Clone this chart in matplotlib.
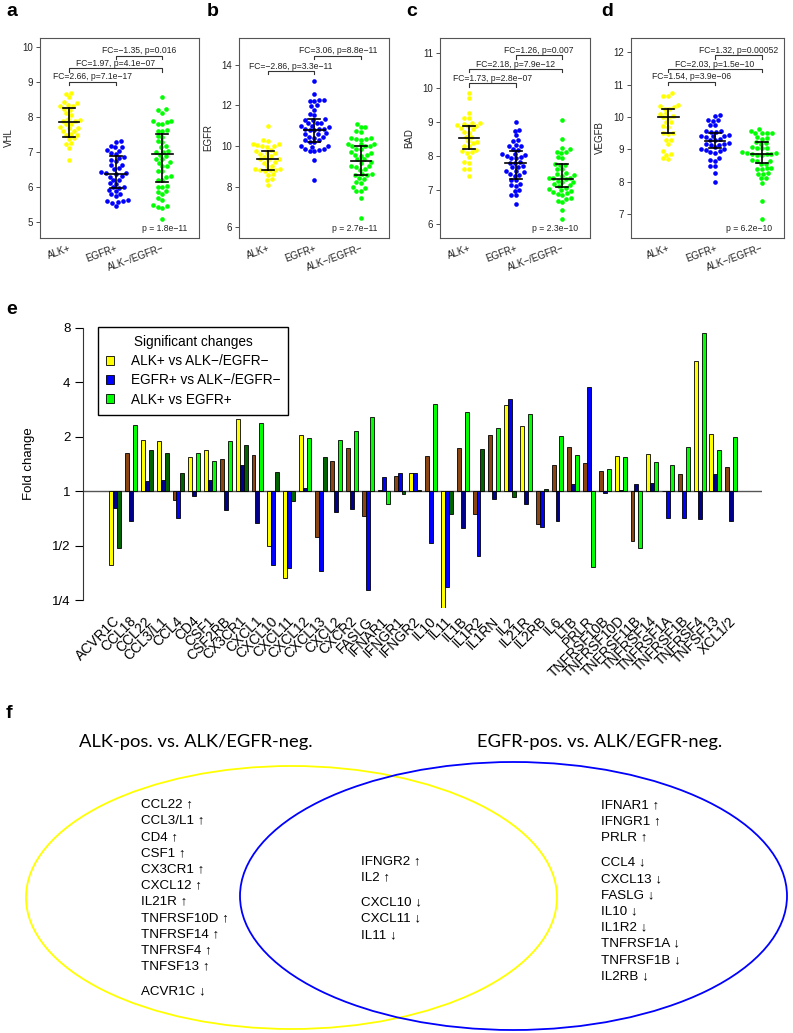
import numpy as np
import matplotlib
matplotlib.use("Agg")
import matplotlib.pyplot as plt
from matplotlib.patches import Ellipse, Patch

plt.rcParams['font.family'] = ['Liberation Sans', 'DejaVu Sans']

W, H = 793, 1033

# ---- panels a-d: expression per group ----
groups = ['ALK+', 'EGFR+', 'ALK\u2212/EGFR\u2212']

vhl_alk = [8.68, 8.66, 8.55, 8.42, 8.40, 8.33, 8.31, 8.30, 8.22, 8.20, 8.10, 8.04, 7.92, 7.90, 7.89,
           7.88, 7.80, 7.78, 7.70, 7.69, 7.67, 7.60, 7.58, 7.50, 7.48, 7.47, 7.38, 7.36, 7.24, 7.22,
           7.10, 6.76]
vhl_egfr = [7.30, 7.28, 7.16, 7.14, 7.12, 7.05, 7.03, 6.95, 6.93, 6.85, 6.83, 6.75, 6.73, 6.63, 6.61,
            6.52, 6.50, 6.41, 6.40, 6.38, 6.37, 6.30, 6.28, 6.20, 6.19, 6.10, 6.08, 6.00, 5.99, 5.97,
            5.90, 5.88, 5.80, 5.78, 5.72, 5.61, 5.60, 5.58, 5.57, 5.53, 5.45]
vhl_neg = [8.56, 8.22, 8.18, 8.12, 7.88, 7.87, 7.85, 7.80, 7.78, 7.62, 7.60, 7.58, 7.45, 7.43, 7.30,
           7.28, 7.15, 7.13, 7.02, 7.00, 6.98, 6.90, 6.88, 6.80, 6.78, 6.70, 6.68, 6.60, 6.58, 6.46,
           6.44, 6.30, 6.28, 6.20, 6.18, 6.02, 6.00, 5.98, 5.88, 5.86, 5.80, 5.66, 5.62, 5.46, 5.44,
           5.41, 5.40, 5.08]

egfr_alk = [11.0, 10.3, 10.25, 10.1, 10.08, 10.05, 10.02, 9.98, 9.95, 9.82, 9.78, 9.66, 9.64, 9.62,
            9.5, 9.48, 9.36, 9.34, 9.32, 9.2, 9.18, 9.02, 9.0, 8.87, 8.85, 8.84, 8.82, 8.8, 8.78, 8.6,
            8.58, 8.36, 8.34, 8.1]
egfr_egfr = [13.2, 12.55, 12.28, 12.26, 12.24, 12.2, 12.0, 11.98, 11.8, 11.58, 11.55, 11.32, 11.3,
             11.28, 11.16, 11.14, 11.12, 11.0, 10.98, 10.96, 10.86, 10.84, 10.82, 10.8, 10.78, 10.62,
             10.6, 10.58, 10.46, 10.44, 10.42, 10.3, 10.28, 10.2, 10.18, 10.0, 9.98, 9.96, 9.86,
             9.84, 9.82, 9.76, 9.74, 9.3, 8.35]
egfr_neg = [11.1, 10.96, 10.94, 10.72, 10.7, 10.4, 10.38, 10.36, 10.34, 10.32, 10.12, 10.1, 10.08,
            10.02, 10.0, 9.98, 9.86, 9.84, 9.7, 9.68, 9.56, 9.54, 9.52, 9.36, 9.34, 9.2, 9.18, 9.02,
            9.0, 8.98, 8.86, 8.84, 8.62, 8.6, 8.58, 8.56, 8.42, 8.4, 8.22, 8.2, 7.96, 7.94, 7.8,
            7.78, 7.45, 6.45]

bad_alk = [9.85, 9.7, 9.25, 9.12, 9.1, 8.96, 8.95, 8.93, 8.9, 8.88, 8.86, 8.8, 8.78, 8.7, 8.68, 8.56,
           8.54, 8.42, 8.4, 8.38, 8.3, 8.28, 8.16, 8.14, 8.1, 8.08, 7.95, 7.82, 7.8, 7.62, 7.6, 7.4]
bad_egfr = [9.0, 8.76, 8.74, 8.6, 8.46, 8.44, 8.32, 8.3, 8.28, 8.2, 8.18, 8.06, 8.04, 8.02, 8.0,
            7.96, 7.94, 7.92, 7.82, 7.8, 7.78, 7.7, 7.68, 7.66, 7.56, 7.54, 7.52, 7.46, 7.44, 7.42,
            7.3, 7.28, 7.16, 7.14, 7.12, 7.0, 6.98, 6.86, 6.84, 6.6]
bad_neg = [9.05, 8.5, 8.22, 8.2, 8.12, 8.1, 8.08, 7.96, 7.94, 7.76, 7.74, 7.72, 7.62, 7.6, 7.5,
           7.46, 7.44, 7.42, 7.36, 7.35, 7.34, 7.33, 7.26, 7.24, 7.22, 7.16, 7.14, 7.12, 7.05, 7.02,
           7.0, 6.98, 6.95, 6.9, 6.88, 6.86, 6.76, 6.74, 6.66, 6.64, 6.4, 6.15]

vegfb_alk = [10.75, 10.66, 10.64, 10.36, 10.34, 10.32, 10.26, 10.24, 10.12, 10.1, 10.02, 10.0, 9.98,
             9.86, 9.84, 9.72, 9.7, 9.52, 9.5, 9.48, 9.3, 9.28, 9.15, 8.95, 8.86, 8.84, 8.72, 8.7]
vegfb_egfr = [10.05, 10.03, 9.92, 9.9, 9.88, 9.76, 9.74, 9.58, 9.56, 9.55, 9.54, 9.45, 9.42, 9.41,
              9.4, 9.39, 9.32, 9.3, 9.28, 9.2, 9.16, 9.15, 9.14, 9.13, 9.06, 9.02, 9.0, 8.98, 8.95,
              8.92, 8.9, 8.74, 8.66, 8.64, 8.5, 8.48, 8.28, 8.0]
vegfb_neg = [9.62, 9.58, 9.52, 9.51, 9.5, 9.49, 9.37, 9.35, 9.33, 9.22, 9.2, 9.18, 9.06, 9.05, 9.04,
             9.03, 8.92, 8.9, 8.88, 8.87, 8.86, 8.85, 8.84, 8.83, 8.66, 8.65, 8.64, 8.56, 8.54, 8.42,
             8.41, 8.4, 8.39, 8.26, 8.25, 8.24, 8.12, 8.1, 7.95, 7.4, 6.85]

# centre line and whiskers per group
vhl_bars = [(7.86, 7.43, 8.24), (6.36, 5.97, 6.88), (6.94, 6.14, 7.50)]
egfr_bars = [(9.35, 8.83, 9.78), (10.80, 10.22, 11.32), (9.27, 8.58, 10.02)]
bad_bars = [(8.51, 8.20, 8.88), (7.80, 7.33, 8.15), (7.32, 7.07, 7.75)]
vegfb_bars = [(10.01, 9.49, 10.25), (9.27, 9.05, 9.52), (8.87, 8.57, 9.22)]

vhl_tests = [(1, 2, 'FC=2.66, p=7.1e\u221217'), (1, 3, 'FC=1.97, p=4.1e\u221207'),
             (2, 3, 'FC=\u22121.35, p=0.016')]
egfr_tests = [(1, 2, 'FC=\u22122.86, p=3.3e\u221211'), (2, 3, 'FC=3.06, p=8.8e\u221211')]
bad_tests = [(1, 2, 'FC=1.73, p=2.8e\u221207'), (1, 3, 'FC=2.18, p=7.9e\u221212'),
             (2, 3, 'FC=1.26, p=0.007')]
vegfb_tests = [(1, 2, 'FC=1.54, p=3.9e\u221206'), (1, 3, 'FC=2.03, p=1.5e\u221210'),
               (2, 3, 'FC=1.32, p=0.00052')]

# ---- panel e: log2 fold changes ----
genes = ['ACVR1C', 'CCL18', 'CCL22', 'CCL3/L1', 'CCL4', 'CD4', 'CSF1', 'CSF2RB', 'CX3CR1', 'CXCL1',
         'CXCL10', 'CXCL11', 'CXCL12', 'CXCL13', 'CXCL2', 'CXCR2', 'FASLG', 'IFNAR1', 'IFNGR1',
         'IFNGR2', 'IL10', 'IL11', 'IL1B', 'IL1R2', 'IL1RN', 'IL2', 'IL21R', 'IL2RB', 'IL6', 'LTB',
         'PRLR', 'TNFRSF10B', 'TNFRSF10D', 'TNFRSF11B', 'TNFRSF14', 'TNFRSF1A', 'TNFRSF1B',
         'TNFRSF4', 'TNFSF13', 'XCL1/2']
alk_vs_neg = [-1.35, 0.70, 0.94, 0.92, -0.16, 0.63, 0.76, 0.60, 1.33, 0.66, -1.00, -1.60, 1.03,
              -0.84, 0.56, 0.80, -0.46, 0.02, 0.28, 0.34, 0.65, -2.17, 0.80, -0.42, 1.04, 1.59,
              1.19, -0.61, 0.49, 0.81, 0.52, 0.38, 0.65, -0.91, 0.69, 0.0, 0.32, 2.40, 1.06, 0.45]
egfr_vs_neg = [-0.31, -0.54, 0.18, 0.21, -0.50, -0.08, 0.21, -0.34, 0.48, -0.59, -1.35, -1.42,
               0.05, -1.47, -0.38, -0.32, -1.82, 0.26, 0.34, 0.33, -0.95, -1.77, -0.67, -1.20,
               -0.15, 1.69, -0.23, -0.65, -0.54, 0.14, 1.91, -0.04, 0.02, 0.13, 0.15, -0.50,
               -0.49, -0.51, 0.32, -0.54]
alk_vs_egfr = [-1.05, 1.22, 0.76, 0.71, 0.34, 0.70, 0.55, 0.93, 0.85, 1.25, 0.35, -0.18, 0.98,
               0.62, 0.94, 1.11, 1.36, -0.24, -0.06, 0.02, 1.60, -0.42, 1.46, 0.78, 1.17, -0.11,
               1.41, 0.04, 1.02, 0.66, -1.39, 0.41, 0.62, -1.04, 0.53, 0.48, 0.81, 2.90, 0.75, 0.99]
sig_alk_egfr = ['CCL18', 'CD4', 'CSF1', 'CSF2RB', 'CXCL1', 'CXCL12', 'CXCL2', 'CXCR2', 'FASLG',
                'IFNAR1', 'IL10', 'IL1B', 'IL1RN', 'IL21R', 'IL6', 'LTB', 'PRLR', 'TNFRSF10B',
                'TNFRSF10D', 'TNFRSF11B', 'TNFRSF14', 'TNFRSF1A', 'TNFRSF1B', 'TNFRSF4',
                'TNFSF13', 'XCL1/2']

# ---- panel f: Venn lists ----
alk_up = ['CCL22', 'CCL3/L1', 'CD4', 'CSF1', 'CX3CR1', 'CXCL12', 'IL21R', 'TNFRSF10D',
          'TNFRSF14', 'TNFRSF4', 'TNFSF13']
alk_down = ['ACVR1C']
both_up = ['IFNGR2', 'IL2']
both_down = ['CXCL10', 'CXCL11', 'IL11']
egfr_up = ['IFNAR1', 'IFNGR1', 'PRLR']
egfr_down = ['CCL4', 'CXCL13', 'FASLG', 'IL10', 'IL1R2', 'TNFRSF1A', 'TNFRSF1B', 'IL2RB']

sig_alk = set(alk_up + alk_down + both_up + both_down)
sig_egfr = set(egfr_up + egfr_down + both_up + both_down)


def px_axes(fig, l, t, r, b):
    return fig.add_axes([l / W, 1 - b / H, (r - l) / W, (b - t) / H])


def swarm_x(vals, xc, sx, sy, d=4.9):
    # simple beeswarm: put each point as close to the centre as it fits
    vals = np.asarray(vals)
    placed = []
    xs = np.zeros(len(vals))
    for i in np.argsort(vals):
        y = vals[i] * sy
        cands = [0.0]
        for px, py in placed:
            dy = y - py
            if abs(dy) < d:
                h = np.sqrt(d * d - dy * dy)
                cands += [px + h, px - h]
        cands.sort(key=lambda c: (abs(c), c))
        for c in cands:
            if all((c - px) ** 2 + (y - py) ** 2 >= d * d - 1e-6 for px, py in placed):
                break
        placed.append((c, y))
        xs[i] = xc + c / sx
    return xs


fig = plt.figure(figsize=(W / 100, H / 100), dpi=100)

panels = [
    ('VHL', [vhl_alk, vhl_egfr, vhl_neg], vhl_bars, vhl_tests, [9.0, 9.38, 9.75],
     'p = 1.8e\u221211', (40, 199, 69), (4.53, 10.26), range(5, 11)),
    ('EGFR', [egfr_alk, egfr_egfr, egfr_neg], egfr_bars, egfr_tests, [13.70, 14.46],
     'p = 2.7e\u221211', (239.3, 389, 267.7), (5.47, 15.34), range(6, 15, 2)),
    ('BAD', [bad_alk, bad_egfr, bad_neg], bad_bars, bad_tests, [10.12, 10.54, 10.94],
     'p = 2.3e\u221210', (440, 590, 469), (5.59, 11.46), range(6, 12)),
    ('VEGFB', [vegfb_alk, vegfb_egfr, vegfb_neg], vegfb_bars, vegfb_tests,
     [11.09, 11.48, 11.91], 'p = 6.2e\u221210', (630.7, 784, 668.3), (6.26, 12.45), range(7, 13)),
]
dot_colors = ['#FFFF00', '#0000FF', '#00FF00']
top, bottom = 37.7, 238
step = 46.7

for gene, data, bars, tests, levels, ptxt, (l, r, x1), ylim, yt in panels:
    ax = px_axes(fig, l, top, r, bottom)
    xlim = (1 - (x1 - l) / step, 1 + (r - x1) / step)
    ax.set_xlim(xlim)
    ax.set_ylim(ylim)
    sy = (bottom - top) / (ylim[1] - ylim[0])
    for k, vals in enumerate(data):
        xs = swarm_x(vals, k + 1, step, sy)
        ax.scatter(xs, vals, s=11, color=dot_colors[k], linewidths=0, zorder=2)
    for k, (c, lo, hi) in enumerate(bars):
        x = k + 1
        ax.plot([x, x], [lo, hi], color='black', lw=1.2, zorder=3)
        ax.plot([x - 0.13, x + 0.13], [lo, lo], color='black', lw=1.2, zorder=3)
        ax.plot([x - 0.13, x + 0.13], [hi, hi], color='black', lw=1.2, zorder=3)
        ax.plot([x - 0.22, x + 0.22], [c, c], color='black', lw=1.2, zorder=3)
    tick = 3.4 / sy
    for (g1, g2, txt), yv in zip(tests, levels):
        ax.plot([g1, g1, g2, g2], [yv - tick, yv, yv, yv - tick], color='#333333', lw=0.8)
        ax.text((g1 + g2) / 2, yv + 0.3 / sy, txt, ha='center', va='bottom', fontsize=6.2,
                color='#222222')
    ax.text(1 - 12 / (r - l), 0.045, ptxt, transform=ax.transAxes, ha='right', va='center',
            fontsize=6.2, color='#222222')
    ax.set_yticks(list(yt))
    ax.set_xticks([1, 2, 3])
    ax.set_xticklabels(groups, rotation=20, ha='right', rotation_mode='anchor', fontsize=7,
                       color='#222222')
    ax.tick_params(axis='x', length=0, pad=4)
    ax.tick_params(axis='y', labelsize=7, length=3, width=0.6, colors='#333333',
                   labelcolor='#222222', pad=2)
    ax.set_ylabel(gene, fontsize=7, color='#222222', labelpad=6)
    for s in ax.spines.values():
        s.set_color('#555555')
        s.set_linewidth(0.8)

label_x = {'a': 6, 'b': 207, 'c': 406, 'd': 601}
for letter, lx in label_x.items():
    fig.text(lx / W, 1 - 12 / H, letter, fontsize=14, fontweight='bold', va='center')

# ---- panel e ----
ax = px_axes(fig, 83, 320, 762, 608)
n = len(genes)
centers = np.arange(n) * 4 + 2.5
c_alk = ['#FFFF00' if g in sig_alk else '#8B4513' for g in genes]
c_egfr = ['#0000FF' if g in sig_egfr else '#00008B' for g in genes]
c_ae = ['#00FF00' if g in sig_alk_egfr else '#006400' for g in genes]
ax.bar(centers - 1, alk_vs_neg, width=1, color=c_alk, edgecolor='black', linewidth=0.6, zorder=2)
ax.bar(centers, egfr_vs_neg, width=1, color=c_egfr, edgecolor='black', linewidth=0.6, zorder=2)
ax.bar(centers + 1, alk_vs_egfr, width=1, color=c_ae, edgecolor='black', linewidth=0.6, zorder=2)
ax.axhline(0, color='#555555', lw=1.0, zorder=1)
ax.set_xlim(-5.68, 166.3)
ax.set_ylim(-2.147, 3.147)
for s in ['top', 'right', 'bottom']:
    ax.spines[s].set_visible(False)
ax.spines['left'].set_bounds(-2, 3)
ax.spines['left'].set_color('#333333')
ax.set_yticks([-2, -1, 0, 1, 2, 3])
ax.set_yticklabels(['1/4', '1/2', '1', '2', '4', '8'])
ax.tick_params(axis='y', labelsize=9.5, length=6, width=0.8, pad=3)
ax.set_xticks([])
ax.set_ylabel('Fold change', fontsize=9.5, labelpad=12)
for xc, g in zip(centers, genes):
    ax.text(xc + 0.6, -2.147 - 11 / 54.5, g, rotation=45, ha='right', va='center',
            rotation_mode='anchor', fontsize=10, clip_on=False)
handles = [Patch(facecolor='#FFFF00', edgecolor='black', linewidth=0.6),
           Patch(facecolor='#0000FF', edgecolor='black', linewidth=0.6),
           Patch(facecolor='#00FF00', edgecolor='black', linewidth=0.6)]
leg = ax.legend(handles, ['ALK+ vs ALK\u2212/EGFR\u2212', 'EGFR+ vs ALK\u2212/EGFR\u2212',
                          'ALK+ vs EGFR+'],
                title='Significant changes', loc='upper left', bbox_to_anchor=(0.022, 0.976),
                fontsize=9.8, title_fontsize=9.8, fancybox=False, edgecolor='black',
                framealpha=1, handlelength=0.6, handleheight=0.6, handletextpad=1.2,
                labelspacing=0.38, borderpad=0.6, borderaxespad=0)
leg.get_frame().set_linewidth(1.0)
fig.text(6 / W, 1 - 309 / H, 'e', fontsize=14, fontweight='bold', va='center')

# ---- panel f ----
fig.text(6 / W, 1 - 714 / H, 'f', fontsize=14, fontweight='bold', va='center')
vx = fig.add_axes([0, 0, 1, 1])
vx.set_xlim(0, W)
vx.set_ylim(H, 0)
vx.axis('off')
vx.add_patch(Ellipse((291.5, 897.5), 531, 263, fill=False, edgecolor='#FFFF00', lw=1.3))
vx.add_patch(Ellipse((513.5, 896), 547, 268, fill=False, edgecolor='#0000FF', lw=1.3))
vx.text(196, 742, 'ALK-pos. vs. ALK/EGFR-neg.', ha='center', va='center', fontsize=13.2,
        family=['Lato', 'DejaVu Sans'])
vx.text(600, 742, 'EGFR-pos. vs. ALK/EGFR-neg.', ha='center', va='center', fontsize=13.2,
        family=['Lato', 'DejaVu Sans'])

gap = 16.2


def write_list(x, y0, up, down):
    y = y0
    for g in up:
        vx.text(x, y, g + ' \u2191', ha='left', va='center', fontsize=9.6)
        y += gap
    y += 9
    for g in down:
        vx.text(x, y, g + ' \u2193', ha='left', va='center', fontsize=9.6)
        y += gap


write_list(141, 804.5, alk_up, alk_down)
write_list(361, 861, both_up, both_down)
write_list(601, 805, egfr_up, egfr_down)

fig.savefig('out.png', dpi=100)
